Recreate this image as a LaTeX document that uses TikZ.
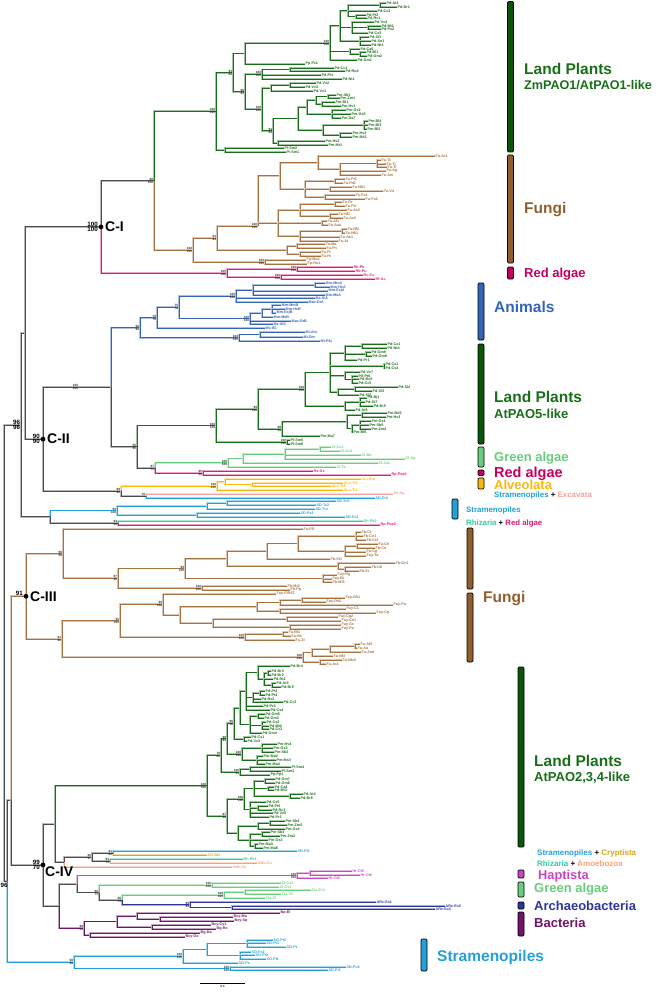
\documentclass[tikz,border=0pt]{standalone}
\usepackage{fontspec}
\setmainfont{Liberation Sans}
\definecolor{lpc}{RGB}{25,110,25}
\definecolor{lpbar}{RGB}{10,85,10}
\definecolor{fuc}{RGB}{165,115,65}
\definecolor{fubar}{RGB}{145,95,45}
\definecolor{rac}{RGB}{220,25,120}
\definecolor{rabar}{RGB}{195,0,95}
\definecolor{anc}{RGB}{50,100,185}
\definecolor{gac}{RGB}{105,205,125}
\definecolor{alc}{RGB}{250,185,10}
\definecolor{stc}{RGB}{35,160,215}
\definecolor{exc}{RGB}{245,160,160}
\definecolor{rhc}{RGB}{55,200,160}
\definecolor{crc}{RGB}{220,165,15}
\definecolor{amc}{RGB}{250,160,115}
\definecolor{hac}{RGB}{200,70,195}
\definecolor{arc}{RGB}{45,55,155}
\definecolor{bac}{RGB}{110,20,105}
\definecolor{bkc}{RGB}{75,75,75}
\newcommand\gsize[1]{\fontsize{#1}{#1}\selectfont\bfseries}
\newcommand\bsu[2]{\node[bst,anchor=south east] (#1bsu) at ([xshift=-0.5pt]#1) {#2};}
\newcommand\bsd[2]{\node[bst,anchor=north east] (#1bsd) at ([xshift=-0.5pt]#1) {#2};}
\newcommand\bs[3]{\bsu{#1}{#2}\bsd{#1}{#3}}
\begin{document}
\begin{tikzpicture}[x=1pt,y=-1pt,
  br/.style={line width=0.8pt, draw=#1, preaction={draw=#1!40, line width=1.9pt}},
  tip/.style={font=\gsize{3.7}, anchor=west, inner sep=0.5pt},
  bst/.style={font=\gsize{3.1}, text=black!80, inner sep=0.2pt},
  bbs/.style={font=\gsize{6.2}, inner sep=0.3pt},
  grp/.style={anchor=base west, inner sep=0pt},
  bar/.style={draw=black, line width=0.7pt, rounded corners=1.2pt}]
\useasboundingbox (0,0) rectangle (660,992);

% backbone
\foreach \n/\px/\py in {root/4/653, A/21/424.9, X/25/333, CI/101/226.9, N88/154/180.7, CII/43/439.1,
  N2a/111/387.2, N95/137/446.7, N97/155/467.9, AL0/121/491, EX0/146/496, SR/50/516.75,
  R2/7/881.2, B/11/800, CIII/26/596.3, CIV/43/865, N2lab/79/387.2}
  \coordinate (\n) at (\px,\py);

% land plants, ZmPAO1/AtPAO1-like
\foreach \n/\px/\py/\t in {a1/386/3/Pd-At1, a2/397/7/Pd-Br1, a3/377/11/Pd-Cc2, a4/366/15/Pd-Pt2, a5/367/18/Pd-Rc1,
  a6/374/22/Pd-Vv4, a7/381/26/Pd-Mt1, a8/381/29/Pd-Pv2, a9/368/33/Pd-Cs3, a10/369/37/Pd-Sl1, a11/371/41/Pd-Sn1,
  a12/371/45/Pd-Nt1, a13/360/49/Pd-Ca5, a14/366/52/Pd-Bl1, a15/367/56/Pd-Gm2, a16/357/60/Pd-Gm1, a17/305/64/Pp-Pz1,
  a18/334/68/Pd-Cc1, a19/345/71/Pd-Ro4, a20/321/75/Pd-Pt1, a21/342/79/Pd-Nt1, a22/316/83/Pd-Vv2, a23/305/87/Pd-Vv3,
  a24/313/91/Pd-Vv1, a25/336/95/Pm-Sb1, a26/340/98/Pm-Zm1, a27/335/102/Pm-Bl1, a28/341/106/Pm-Hv1, a29/346/110/Pm-Os2,
  a30/351/114/Pm-Os5, a31/341/118/Pm-Da7, a32/368/121/Pm-Bl4, a33/368/125/Pm-Bl3, a34/367/129/Pm-Bl2, a35/352/133/Pm-Hv2,
  a36/352/137/Pm-Bd1, a37/325/141/Pm-Hv3, a38/328/145/Pm-Mr1, a39/284/148/Pl-Sm2, a40/286/152/Pl-Sm1}
  {\coordinate (\n) at (\px,\py); \node[tip,text=lpc] (t\n) at (\n) {\t};}
\foreach \n/\px/\py in {A7b/380/5, A7c/356/16.5, A7/348/10.75, A8a/368/27.5, A8/352/27.5, A9/360/41, A5/340/25.9,
  A6a/360/54, A6/350/51.5, A4/330/43, A2/245/53.5, A12/290/69.5, A10/262/74.25, A13a/290/85, A13/271/88,
  A17c/328/96.5, A17d/322/104, A17a/316/100.25, A17b/332/114, A17/307/107, A18a/364/125, A18b/340/135, A18/323/130,
  A15/298/118.5, A16/278/143, A14/273/130.75, A11/262/109.4, A3/245/91.8, A1/233/72.7, A40/225/150, A0/216/111.4}
  \coordinate (\n) at (\px,\py);
\foreach \p/\c in {A0/A1, A0/A40, A40/a39, A40/a40, A1/A2, A1/A3, A2/A4, A2/a17, A4/A5, A4/A6, A4/a16, A5/A7, A5/A8,
  A5/A9, A7/A7b, A7/a3, A7/A7c, A7b/a1, A7b/a2, A7c/a4, A7c/a5, A8/a6, A8/A8a, A8/a9, A8a/a7, A8a/a8, A9/a10, A9/a11,
  A9/a12, A6/a13, A6/A6a, A6a/a14, A6a/a15, A3/A10, A3/A11, A10/A12, A10/a20, A10/a21, A12/a18, A12/a19, A11/A13,
  A11/A14, A13/A13a, A13/a24, A13a/a22, A13a/a23, A14/A15, A14/A16, A15/A17, A15/A18, A17/A17a, A17/A17b, A17a/A17c,
  A17a/A17d, A17c/a25, A17c/a26, A17d/a27, A17d/a28, A17b/a29, A17b/a30, A17b/a31, A18/A18a, A18/A18b, A18a/a32,
  A18a/a33, A18a/a34, A18b/a35, A18b/a36, A16/a37, A16/a38, N88/A0}
  \draw[br=lpc] (\p) |- (\c);

% fungi of C-I
\foreach \n/\px/\py/\t in {b1/435/156/Fa-Ar1, b2/381/160/Fa-Tc, b3/386/164/Fa-Tt, b4/387/167/Fa-Tr, b5/386/171/Fa-Ag,
  b6/381/175/Fa-Am, b7/345/179/Fa-Pt2, b8/343/183/Fa-Pd2, b9/352/187/Fa-Nh1, b10/383/191/Fa-Vd, b11/355/195/Fa-Fo1,
  b12/365/199/Fa-Fo2, b13/342/202/Fa-Pc, b14/345/206/Fa-Pd, b15/347/210/Fa-Ac2, b16/338/214/Fa-Nf1, b17/343/218/Fa-An2,
  b18/327/221/Fa-Af1, b19/328/225/Fa-Aaa, b20/347/229/Fa-Nf2, b21/345/233/Fa-Nfi1, b22/340/237/Fa-An1, b23/338/241/Fa-At,
  b24/325/244/Fa-Ma, b25/326/248/Fa-Pn, b26/321/252/Fa-Pl, b27/321/256/Fa-Hi, b28/306/260/Fp-Mo1, b29/307/264/Fp-Ro1}
  {\coordinate (\n) at (\px,\py); \node[tip,text=fuc] (t\n) at (\n) {\t};}
\foreach \n/\px/\py in {F7b/377/163.5, F7a/340/169.25, F7/318/162.6, F8a/335/181, F8b/330/189, F8c/325/197, F8/305/189,
  F5/280/175.8, F9a/335/204, F9b/330/216, F9/300/210, F10/322/223, F11a/342/231, F11/300/236, F6/278/223, F3/258/226,
  F4a/297/246, F4b/300/254, F4/287/250, F1/217/238, F2/265/262, FU1/193/250}
  \coordinate (\n) at (\px,\py);
\foreach \p/\c in {N88/FU1, FU1/F1, FU1/F2, F2/b28, F2/b29, F1/F3, F1/F4, F4/F4a, F4/F4b, F4a/b24, F4a/b25, F4b/b26,
  F4b/b27, F3/F5, F3/F6, F5/F7, F5/F8, F7/b1, F7/F7a, F7a/F7b, F7a/b5, F7a/b6, F7b/b2, F7b/b3, F7b/b4, F8/F8a, F8/F8b,
  F8/F8c, F8a/b7, F8a/b8, F8b/b9, F8b/b10, F8c/b11, F8c/b12, F6/F9, F6/F10, F6/F11, F9/F9a, F9/b15, F9/F9b, F9a/b13,
  F9a/b14, F9b/b16, F9b/b17, F10/b18, F10/b19, F11/F11a, F11/b22, F11/b23, F11a/b20, F11a/b21}
  \draw[br=fuc] (\p) |- (\c);

% red algae of C-I
\foreach \n/\px/\py/\t in {c1/353/267/Rb-Pk, c2/355/271/Rb-Pu, c3/363/275/Rc-Cc, c4/375/279/Rf-Ac}
  {\coordinate (\n) at (\px,\py); \node[tip,text=rac] (t\n) at (\n) {\t};}
\foreach \n/\px/\py in {R1/297/269, R2a/281/277, RA1/227/273}
  \coordinate (\n) at (\px,\py);
\foreach \p/\c in {CI/RA1, RA1/R1, RA1/R2a, R1/c1, R1/c2, R2a/c3, R2a/c4}
  \draw[br=rac] (\p) |- (\c);

% animals
\foreach \n/\px/\py/\t in {d1/325/283/Mm-MmA, d2/330/287/Mm-HsA, d3/328/291/Mm-EcjA, d4/325/295/Mm-MeA, d5/315/298/Mz-XiA,
  d6/308/302/Mac-DrA, d7/281/305/Mm-MmB, d8/285/309/Mm-HsB, d9/276/313/Mm-EcjB, d10/273/317/Mm-MeB, d11/291/321/Mac-DrB,
  d12/273/324/Mz-XiS, d13/265/328/Mc-B1, d14/305/332/Mi-Am, d15/303/337/Mi-Dm, d16/320/341/Mi-Pfu}
  {\coordinate (\n) at (\px,\py); \node[tip,text=anc] (t\n) at (\n) {\t};}
\foreach \n/\px/\py in {AA1a/315/285, AA1/253/290, AA/236/296, AB1a/272/309, AB1/262/313, AB/250/318.5, AN2/179/307.25,
  AN1/157/317.6, AMi1/260/334.5, AMi/239/337.75, AN0/140/327.7}
  \coordinate (\n) at (\px,\py);
\foreach \p/\c in {N2a/AN0, AN0/AN1, AN0/AMi, AN1/AN2, AN1/d13, AN2/AA, AN2/AB, AA/AA1, AA/d5, AA/d6, AA1/AA1a, AA1/d3,
  AA1/d4, AA1a/d1, AA1a/d2, AB/AB1, AB/d11, AB/d12, AB1/AB1a, AB1/d10, AB1a/d7, AB1a/d8, AB1a/d9, AMi/AMi1, AMi/d16,
  AMi1/d14, AMi1/d15}
  \draw[br=anc] (\p) |- (\c);

% land plants, AtPAO5-like
\foreach \n/\px/\py/\t in {e1/387/344/Pd-Cx1, e2/387/348/Pd-Nt4, e3/371/352/Pd-Gm9, e4/372/356/Pd-Gm8, e5/357/360/Pd-Pr1,
  e6/385/364/Pd-Cs1, e7/385/368/Pd-Cs2, e8/360/372/Pd-Vv7, e9/358/376/Pd-Pt6, e10/359/379/Pd-Rc5, e11/358/383/Pd-Cc5,
  e12/398/387/Pd-Sl4, e13/372/391/Pd-Sl3, e14/359/395/Pd-Sl2, e15/367/398/Pd-Bj1, e16/365/402/Pd-St7, e17/373/406/Pd-Br5,
  e18/355/410/Pd-At5, e19/387/413/Pm-Bd2, e20/386/417/Pm-Hv3, e21/371/421/Pm-Os1, e22/369/425/Pm-Sb5, e23/371/429/Pm-Zm4,
  e24/353/432/Pm-Bl6, e25/320/436/Pm-Ma7, e26/290/440/Pl-Sm5, e27/290/444/Pl-Sm6}
  {\coordinate (\n) at (\px,\py); \node[tip,text=lpc] (t\n) at (\n) {\t};}
\foreach \n/\px/\py in {L6a1/362/346, L6a2/366/354, L6a/345/353, L6b/384/366, L6c1/352/379.5, L6c/345/375.75,
  L6d1/355/389, L6d/338/392, L6/330/372.5, L7a/360/402, L7/345/406, L3/305/389.25, L5a/362/415, L5c/360/425,
  L5b/352/428.5, L5/347/421.75, L4/282/428.9, L1/258/409, L2/287/442, L0/216/425.5}
  \coordinate (\n) at (\px,\py);
\foreach \p/\c in {N95/L0, L0/L1, L0/L2, L2/e26, L2/e27, L1/L3, L1/L4, L3/L6, L3/L7, L6/L6a, L6/L6b, L6/L6c, L6/L6d,
  L6a/L6a1, L6a/L6a2, L6a/e5, L6a1/e1, L6a1/e2, L6a2/e3, L6a2/e4, L6b/e6, L6b/e7, L6c/e8, L6c/L6c1, L6c1/e9, L6c1/e10,
  L6c1/e11, L6d/L6d1, L6d/e14, L6d1/e12, L6d1/e13, L7/L7a, L7/e18, L7a/e15, L7a/e16, L7a/e17, L4/L5, L4/e25, L5/L5a,
  L5/L5b, L5a/e19, L5a/e20, L5b/L5c, L5b/e24, L5c/e21, L5c/e22, L5c/e23}
  \draw[br=lpc] (\p) |- (\c);

% green and red algae of C-II
\foreach \n/\px/\py/\t in {f1/331/447/Cl-Cv1, f2/340/451/Cl-Cv2, f3/361/455/Cl-Mc, f4/405/459/Cl-Ap, f5/378/463/Cl-Csn,
  f6/336/467/Cl-Ts}
  {\coordinate (\n) at (\px,\py); \node[tip,text=gac] (t\n) at (\n) {\t};}
\foreach \n/\px/\py/\t in {g1/313/471/Rs-Gs, g2/391/475/Rp-Pop1}
  {\coordinate (\n) at (\px,\py); \node[tip,text=rac] (t\n) at (\n) {\t};}
\foreach \n/\px/\py in {GA3/320/449, GA2/285/454, GA1/243/458.5, GA0/228/462.75, RG/203/473}
  \coordinate (\n) at (\px,\py);
\foreach \p/\c in {N97/GA0, GA0/GA1, GA0/f6, GA1/GA2, GA1/f5, GA2/GA3, GA2/f3, GA2/f4, GA3/f1, GA3/f2}
  \draw[br=gac] (\p) |- (\c);
\foreach \p/\c in {N97/RG, RG/g1, RG/g2}
  \draw[br=rac] (\p) |- (\c);

% alveolata, excavata
\foreach \n/\px/\py/\t in {h1/361/479/ALt-Bm, h2/343/483/ALu-Tt2, h3/331/486/ALu-Tt4, h4/343/490/ALu-Tt1}
  {\coordinate (\n) at (\px,\py); \node[tip,text=alc] (t\n) at (\n) {\t};}
\coordinate (i1) at (393,494); \node[tip,text=exc] (ti1) at (i1) {Eh-Ng};
\coordinate (i2) at (375,498); \node[tip,text=stc] (ti2) at (i2) {SD-Pt4};
\foreach \n/\px/\py in {AL3/252/484.5, AL2/225/481.75, AL1/217/485.9}
  \coordinate (\n) at (\px,\py);
\foreach \p/\c in {AL0/AL1, AL1/AL2, AL1/h4, AL2/h1, AL2/AL3, AL3/h2, AL3/h3}
  \draw[br=alc] (\p) |- (\c);
\draw[br=exc] (EX0) |- (i1);
\draw[br=stc] (EX0) |- (i2);

% stramenopiles, rhizaria, red algae
\foreach \n/\px/\py/\t in {j1/336/501/SD-Tc3, j2/316/505/SD-Tc2, j3/315/509/SD-Tc1, j4/300/513/SD-Ps1, j5/345/517/SD-Fc2}
  {\coordinate (\n) at (\px,\py); \node[tip,text=stc] (t\n) at (\n) {\t};}
\coordinate (j6) at (363,521); \node[tip,text=rhc] (tj6) at (j6) {Rh-Pb2};
\coordinate (j7) at (380,525); \node[tip,text=rac] (tj7) at (j7) {Rp-Pop2};
\foreach \n/\px/\py in {S1c/227/503, S1a/207/506, S1b/197/515, S1/117/510.5, S2/118/523}
  \coordinate (\n) at (\px,\py);
\foreach \p/\c in {SR/S1, S1/S1a, S1/S1b, S1a/S1c, S1a/j3, S1c/j1, S1c/j2, S1b/j4, S1b/j5}
  \draw[br=stc] (\p) |- (\c);
\draw[br=rhc] (S2) |- (j6);
\draw[br=rac] (S2) |- (j7);

% fungi of C-III
\foreach \n/\px/\py/\t in {k1/303/529/Fa-Ff1, k2/361/532/Fb-Cf, k3/363/536/Fb-Cn1, k4/366/540/Fb-Ct2, k5/378/544/Fa-Ch,
  k6/375/548/Fb-Co, k7/366/552/Fa-Cg, k8/366/556/Fay-Ta, k9/330/559/Fb-Sf1, k10/395/563/Fb-Gn1, k11/371/567/Fb-Uh,
  k12/359/571/Fb-Sr, k13/337/575/Fay-Rg, k14/332/579/Fay-Bi, k15/332/582/Fb-Mf1, k16/287/586/Fb-Mt2, k17/290/590/Fb-Pp,
  k18/276/594/Fay-FIRST, k19/345/598/Fay-Dh1, k20/326/602/Fay-Dh2, k21/393/605/Fay-Pu, k22/346/609/Fay-C1,
  k23/376/613/Fay-Cp, k24/338/617/Fay-Cg2, k25/341/621/Fay-Cn1, k26/341/625/Fay-Ss, k27/341/629/Fay-Pa,
  k28/288/632/Fa-Bf1, k29/291/636/Fa-Bc, k30/295/640/Fa-Zt, k31/360/644/Fa-At3, k32/357/648/Fa-Au, k33/361/652/Fa-And,
  k34/333/656/Fa-Nf3, k35/342/660/Fa-Nfs2, k36/326/664/Fa-Ac1}
  {\coordinate (\n) at (\px,\py); \node[tip,text=fuc] (t\n) at (\n) {\t};}
\foreach \n/\px/\py in {C3t/356/536, C3w/357/546, C3v/345/551, C3s/298/543.5, C3q/267/551.25, C3x/345/569, C3r/338/566,
  C3l/227/558.6, C3p/323/578.5, C3d/185/568.5, C3e/202/588, C3c/118/578.3, C3a/63/553.6, C3ac/302/600, C3ab/280/602.5,
  C3ad/280/611, C3z/257/606.75, C3ae/287/619, C3af/290/627, C3aa/213/623, C3y/180/614.9, C3f/163/604.4, C3ag/283/634,
  C3j/245/637, C3h/120/620.7, C3ai/355/646, C3ak/330/649, C3ah/312/652.5, C3aj/320/662, C3i/303/657.25, C3b/62/639}
  \coordinate (\n) at (\px,\py);
\foreach \p/\c in {B/CIII, CIII/C3a, CIII/C3b, C3a/k1, C3a/C3c, C3c/C3d, C3c/C3e, C3e/k16, C3e/k17, C3d/C3l, C3d/C3p,
  C3p/k13, C3p/k14, C3p/k15, C3l/C3q, C3l/C3r, C3q/C3s, C3q/k9, C3s/C3t, C3s/C3v, C3t/k2, C3t/k3, C3t/k4, C3v/C3w,
  C3v/k7, C3v/k8, C3w/k5, C3w/k6, C3r/k10, C3r/C3x, C3x/k11, C3x/k12, C3b/C3h, C3b/C3i, C3h/C3f, C3h/C3j, C3f/k18,
  C3f/C3y, C3y/C3z, C3y/C3aa, C3z/C3ab, C3z/C3ad, C3ab/C3ac, C3ab/k21, C3ac/k19, C3ac/k20, C3ad/k22, C3ad/k23,
  C3aa/C3ae, C3aa/C3af, C3ae/k24, C3ae/k25, C3af/k26, C3af/k27, C3j/C3ag, C3j/k30, C3ag/k28, C3ag/k29, C3i/C3ah,
  C3i/C3aj, C3ah/C3ak, C3ah/k34, C3ak/C3ai, C3ak/k33, C3ai/k31, C3ai/k32, C3aj/k35, C3aj/k36}
  \draw[br=fuc] (\p) |- (\c);

% land plants, AtPAO2,3,4-like
\foreach \n/\px/\py/\t in {m1/290/666/Pd-Br4, m2/271/671/Pd-Br3, m3/271/675/Pd-Br2, m4/273/679/Pd-Rt2, m5/276/683/Pd-At3,
  m6/281/687/Pd-Br5, m7/265/691/Pd-Pt3, m8/265/695/Pd-Pt4, m9/261/699/Pd-Rc2, m10/283/702/Pd-Cc3, m11/263/706/Pd-Pr4,
  m12/270/710/Pd-Cs4, m13/265/714/Pd-Gm5, m14/264/718/Pd-Gm3, m15/266/722/Pd-Cs2, m16/269/726/Pd-Mt2, m17/269/729/Pd-Cc2,
  m18/262/733/Pd-Gm4, m19/251/737/Pd-Cs1, m20/247/741/Pd-Vv3, m21/277/744/Pm-Hv4, m22/273/748/Pm-Os3, m23/274/752/Pm-Sb2,
  m24/263/756/Pm-Ma2, m25/276/760/Pm-Ms3, m26/265/764/Pm-Ma4, m27/291/767/Pl-Sm4, m28/281/771/Pl-Sm3, m29/270/775/Pp-Pp1,
  m30/275/779/Pd-Gm7, m31/275/783/Pd-Gm6, m32/274/787/Pd-Ca4, m33/274/790/Pd-Mt3, m34/303/794/Pd-At4, m35/300/798/Pd-Br6,
  m36/266/802/Pd-Cs5, m37/268/806/Pd-Pt5, m38/272/810/Pd-Rc3, m39/273/813/Pd-Vv5, m40/269/817/Pd-Pr2, m41/285/821/Pm-Sb4,
  m42/287/825/Pm-Zm3, m43/285/829/Pm-Os4, m44/270/832/Pm-Sb3, m45/280/836/Pm-Zm2, m46/268/840/Pm-Os2, m47/258/844/Pm-Ma3,
  m48/263/848/Pm-Ma6}
  {\coordinate (\n) at (\px,\py); \node[tip,text=lpc] (t\n) at (\n) {\t};}
\foreach \n/\px/\py in {P10b/268/673, P10c/272/685, P10a/264/679, P10/258/672.5, P11a/260/693, P11/253/697.5,
  P8/246/691.25, P12/258/716, P13/262/725.5, P9/250/724.5, P7/240/707.9, P5b/244/739, P5/234/723.4, P14/262/748,
  P15/257/760, P6/242/754, P3/227/738.7, P16/250/769, P4/240/772, P1/221/755.4, P19a/265/781, P19b/268/788.5,
  P19c/290/796, P19/254/788.5, P20a/258/808, P20/250/809.5, P17/244/799, P21a/270/823, P21/258/826, P22a/262/834,
  P22b/255/846, P22/250/840, P18/238/833, P2/227/816, LP4/207/785.7}
  \coordinate (\n) at (\px,\py);
\foreach \p/\c in {LP4/P1, LP4/P2, P1/P3, P1/P4, P3/P5, P3/P6, P5/P7, P5/P5b, P5b/m19, P5b/m20, P7/P8, P7/P9, P8/P10,
  P8/P11, P8/m11, P8/m12, P10/m1, P10/P10a, P10a/P10b, P10a/m4, P10a/P10c, P10b/m2, P10b/m3, P10c/m5, P10c/m6,
  P11/P11a, P11/m9, P11/m10, P11a/m7, P11a/m8, P9/P12, P9/P13, P9/m18, P12/m13, P12/m14, P13/m15, P13/m16, P13/m17,
  P6/P14, P6/P15, P14/m21, P14/m22, P14/m23, P15/m24, P15/m25, P15/m26, P4/P16, P4/m29, P16/m27, P16/m28, P2/P17,
  P2/P18, P17/P19, P17/P20, P19/P19a, P19/P19b, P19/P19c, P19a/m30, P19a/m31, P19b/m32, P19b/m33, P19c/m34, P19c/m35,
  P20/m36, P20/P20a, P20/m39, P20/m40, P20a/m37, P20a/m38, P18/P21, P18/P22, P21/P21a, P21/m43, P21a/m41, P21a/m42,
  P22/P22a, P22/m46, P22/P22b, P22a/m44, P22a/m45, P22b/m47, P22b/m48}
  \draw[br=lpc] (\p) |- (\c);

% rest of C-IV
\foreach \n/\px/\py in {C4e/113/853, C4f/110/861, C4d/92/857, C4c/64/862, C4a/55/823.9, H1/310/873, H0/297/875.5,
  CA0/212/885, CA2/245/892, CA1/224/895, AR1/232/907.5, AR0/190/904.75, C4i/122/899.9, C4h/99/892.5, C4g/77/884,
  B5/160/919, B3/137/916, B4/152/927, B1/117/921.5, B2/90/935, B0/84/928.25, C4b/59/906.1}
  \coordinate (\n) at (\px,\py);
\coordinate (n1) at (297,851); \node[tip,text=stc] (tn1) at (n1) {SD-Pt1};
\coordinate (n2) at (207,855); \node[tip,text=crc] (tn2) at (n2) {CR-Gt2};
\coordinate (n3) at (243,859); \node[tip,text=rhc] (tn3) at (n3) {Rh-Pb1};
\coordinate (n4) at (257,863); \node[tip,text=amc] (tn4) at (n4) {AMo-Cu};
\coordinate (n5) at (232,867); \node[tip,text=amc] (tn5) at (n5) {AMo-Vu};
\foreach \n/\px/\py/\t in {o1/352/871/Hr-Ct5, o2/360/875/Hr-Ct6, o3/328/878/Hr-Ct2}
  {\coordinate (\n) at (\px,\py); \node[tip,text=hac] (t\n) at (\n) {\t};}
\foreach \n/\px/\py/\t in {o4/281/883/Cl-Cs2, o5/279/887/Cl-Cv1, o6/311/890/Cls-Fv1, o7/281/894/Cls-Vc, o8/265/898/Cls-Cl}
  {\coordinate (\n) at (\px,\py); \node[tip,text=gac] (t\n) at (\n) {\t};}
\foreach \n/\px/\py/\t in {o9/376/902/ARc-Ex1, o10/445/906/ARc-Ex2, o11/435/909/ARc-Ex3}
  {\coordinate (\n) at (\px,\py); \node[tip,text=arc] (t\n) at (\n) {\t};}
\foreach \n/\px/\py/\t in {q1/280/913/Bp-El, q2/233/917/Bcy-Ma, q3/234/921/Bcy-Sp, q4/211/925/Bcy-Cy1, q5/216/929/Bg-Rc,
  q6/200/933/Bg-Ha, q7/185/937/Bcy-Ox}
  {\coordinate (\n) at (\px,\py); \node[tip,text=bac] (t\n) at (\n) {\t};}
\draw[br=lpc] (C4a) |- (LP4);
\draw[br=stc] (C4e) |- (n1);
\draw[br=crc] (C4e) |- (n2);
\draw[br=rhc] (C4f) |- (n3);
\draw[br=amc] (C4f) |- (n4);
\draw[br=amc] (C4c) |- (n5);
\foreach \p/\c in {C4g/H0, H0/H1, H0/o3, H1/o1, H1/o2}
  \draw[br=hac] (\p) |- (\c);
\foreach \p/\c in {C4h/CA0, CA0/o4, CA0/o5, C4i/CA1, CA1/CA2, CA1/o8, CA2/o6, CA2/o7}
  \draw[br=gac] (\p) |- (\c);
\foreach \p/\c in {C4i/AR0, AR0/o9, AR0/AR1, AR1/o10, AR1/o11}
  \draw[br=arc] (\p) |- (\c);
\foreach \p/\c in {C4b/B0, B0/B1, B0/B2, B1/B3, B1/B4, B3/q1, B3/B5, B5/q2, B5/q3, B4/q4, B4/q5, B2/q6, B2/q7}
  \draw[br=bac] (\p) |- (\c);

% stramenopiles at the base
\foreach \n/\px/\py/\t in {s1/273/940/SO-Pr2, s2/266/943/SO-Pr1, s3/286/947/SO-Pt, s4/251/952/SO-Fs2, s5/255/955/SO-Pr3,
  s6/266/959/SO-Pt1, s7/238/963/SO-Ps, s8/346/967/SD-Pc4, s9/328/970/SD-Pi2}
  {\coordinate (\n) at (\px,\py); \node[tip,text=stc] (t\n) at (\n) {\t};}
\foreach \n/\px/\py in {SO3a/247/943.5, SO3b/240/955.5, SO3/207/949.5, SO1/183/956.25, SO2/230/968.5, SO/74/962.4}
  \coordinate (\n) at (\px,\py);
\foreach \p/\c in {R2/SO, SO/SO1, SO/SO2, SO1/SO3, SO1/s7, SO3/SO3a, SO3/SO3b, SO3a/s1, SO3a/s2, SO3a/s3, SO3b/s4,
  SO3b/s5, SO3b/s6, SO2/s8, SO2/s9}
  \draw[br=stc] (\p) |- (\c);

% black backbone
\foreach \p/\c in {root/A, root/R2, A/X, A/SR, X/CI, X/CII, CI/N88, CII/N2a, CII/AL0, N2a/N95, N95/N97, AL0/EX0,
  SR/S2, R2/B, B/CIV, CIV/C4a, CIV/C4b, C4a/C4c, C4c/C4d, C4d/C4e, C4d/C4f, C4b/C4g, C4g/C4h, C4h/C4i}
  \draw[br=bkc] (\p) |- (\c);

% clades
\foreach \n in {CI, CII, CIII, CIV} \fill (\n) circle (2.4pt);
\node[anchor=west,inner sep=0pt,font=\gsize{14}] (CIl) at ([xshift=4pt]CI) {C-I};
\node[anchor=west,inner sep=0pt,font=\gsize{14}] (CIIl) at ([xshift=4pt]CII) {C-II};
\node[anchor=west,inner sep=0pt,font=\gsize{14}] (CIIIl) at ([xshift=4pt]CIII) {C-III};
\node[anchor=north west,inner sep=0pt,font=\gsize{14}] (CIVl) at ([xshift=2pt,yshift=-2pt]CIV) {C-IV};
\node[bbs,anchor=south east] (CIbsu) at ([xshift=-2.8pt]CI) {100};
\node[bbs,anchor=north east] (CIbsd) at ([xshift=-2.8pt]CI) {100};
\node[bbs,anchor=south east] (Absu) at ([xshift=-0.5pt]A) {96};
\node[bbs,anchor=north east] (Absd) at ([xshift=-0.5pt]A) {96};
\node[bbs,anchor=south east] (CIIbsu) at ([xshift=-2.8pt]CII) {90};
\node[bbs,anchor=north east] (CIIbsd) at ([xshift=-2.8pt]CII) {90};
\node[bbs,anchor=south east] (CIIIbsu) at ([xshift=-2.8pt]CIII) {91};
\node[bbs,anchor=south east] (CIVbsu) at ([xshift=-2.8pt]CIV) {99};
\node[bbs,anchor=north east] (CIVbsd) at ([xshift=-2.8pt]CIV) {70};
\node[bbs,anchor=north east] (R2bsd) at ([xshift=1pt,yshift=-1pt]R2) {96};

% support values
\bs{A0}{100}{100} \bs{A1}{93}{94} \bs{A3}{96}{94} \bs{A4}{100}{100} \bs{A10}{100}{100} \bs{A11}{100}{100} \bs{A14}{94}{94}
\bs{N88}{88}{100} \bs{FU1}{100}{100} \bs{F1}{83}{84} \bs{F3}{100}{100} \bs{F2}{100}{100}
\bs{RA1}{100}{100} \bs{R1}{100}{100} \bs{R2a}{100}{100}
\bs{AN0}{92}{92} \bs{AN1}{79}{79} \bs{AN2}{75}{76} \bs{AA}{100}{100} \bs{AB}{100}{100} \bs{AMi}{100}{100}
\bs{N2lab}{100}{100} \bs{N95}{95}{95} \bs{L0}{100}{100} \bs{L1}{99}{100} \bs{L3}{100}{100} \bs{L4}{98}{99} \bs{L2}{100}{100}
\bs{N97}{87}{71} \bs{GA0}{100}{100} \bs{RG}{90}{99}
\bs{AL0}{99}{92} \bs{AL1}{100}{100} \bsu{EX0}{70}
\bs{S1}{99}{100} \bs{S2}{94}{94}
\bs{C3a}{98}{98} \bs{C3c}{97}{99} \bs{C3d}{99}{100} \bs{C3e}{100}{100} \bs{C3b}{81}{88} \bs{C3h}{95}{100}
\bs{C3f}{99}{100} \bs{C3j}{100}{100} \bs{C3i}{100}{100}
\bs{LP4}{100}{100} \bs{P1}{79}{82} \bs{P3}{99}{91} \bs{P5}{96}{92} \bs{P6}{100}{100} \bs{P4}{100}{93} \bs{P2}{97}{98}
\bs{P17}{100}{100}
\bs{C4d}{96}{97} \bs{C4e}{61}{82} \bs{C4f}{83}{79} \bs{H0}{100}{100} \bs{C4h}{66}{73} \bs{CA0}{100}{100}
\bs{C4i}{98}{79} \bs{CA1}{100}{100} \bs{AR0}{99}{99} \bs{B0}{98}{93}
\bs{SO}{98}{98} \bs{SO1}{100}{100} \bs{SO2}{100}{100}

% group bars
\foreach \xa/\ya/\xb/\yb/\c in {507.5/1.5/513.5/152/lpbar, 507.5/155/513.5/263/fubar, 507.5/267/513.5/279/rabar,
  478/283/484/340/anc, 478/344/484/444/lpbar, 478/447/484/467/gac, 478/470/484/475.5/rabar, 478/478/484/489/alc,
  452/499/458/519/stc, 467/528/473/589/fubar, 467/593/473/662/fubar, 518/667/524/847/lpbar, 518/870/524/878/hac,
  518/882/524/897/gac, 518/902/524/909/arc, 518/912/524/936/bac, 421/939/427/971/stc}
  \draw[bar,fill=\c] (\xa,\ya) rectangle (\xb,\yb);

% group names
\node[grp,text=lpc,font=\gsize{15.5}] (g1a) at (524,75) {Land Plants};
\node[grp,text=lpc,font=\gsize{12.6}] (g1b) at (524,90) {ZmPAO1/AtPAO1-like};
\node[grp,text=fubar,font=\gsize{15.5}] (g2) at (524,214) {Fungi};
\node[grp,text=rabar,font=\gsize{13}] (g3) at (524,277) {Red algae};
\node[grp,text=anc,font=\gsize{15.5}] (g4) at (494,312) {Animals};
\node[grp,text=lpc,font=\gsize{15.5}] (g5a) at (494,402) {Land Plants};
\node[grp,text=lpc,font=\gsize{13}] (g5b) at (494,418) {AtPAO5-like};
\node[grp,text=gac,font=\gsize{13}] (g6) at (494,461) {Green algae};
\node[grp,text=rabar,font=\gsize{14.5}] (g7) at (494,477) {Red algae};
\node[grp,text=alc,font=\gsize{13}] (g8) at (494,489) {Alveolata};
\node[grp,font=\gsize{7.9}] (g9) at (494,497) {\textcolor{stc}{Stramenopiles} + \textcolor{exc}{Excavata}};
\node[grp,text=stc,font=\gsize{7.9}] (g10) at (466,512) {Stramenopiles};
\node[grp,font=\gsize{7.8}] (g11) at (466,525) {\textcolor{rhc}{Rhizaria} + \textcolor{rac}{Red algae}};
\node[grp,text=fubar,font=\gsize{15.5}] (g12) at (483,602) {Fungi};
\node[grp,text=lpc,font=\gsize{15.5}] (g13a) at (534,766) {Land Plants};
\node[grp,text=lpc,font=\gsize{13}] (g13b) at (534,781) {AtPAO2,3,4-like};
\node[grp,font=\gsize{8}] (g14) at (537,855) {\textcolor{stc}{Stramenopiles} + \textcolor{crc}{Cryptista}};
\node[grp,font=\gsize{8}] (g15) at (537,866) {\textcolor{rhc}{Rhizaria} + \textcolor{amc}{Amoebozoa}};
\node[grp,text=hac,font=\gsize{12.8}] (g16) at (538,879) {Haptista};
\node[grp,text=gac,font=\gsize{13}] (g17) at (534,892) {Green algae};
\node[grp,text=arc,font=\gsize{13}] (g18) at (534,910) {Archaeobacteria};
\node[grp,text=bac,font=\gsize{13}] (g19) at (534,927) {Bacteria};
\node[grp,text=stc,font=\gsize{15.5}] (g20) at (437,961) {Stramenopiles};

% scale
\coordinate (sca) at (200,983); \coordinate (scb) at (245,983);
\draw[line width=0.6pt] (sca) -- (scb);
\node[bst,anchor=north] (scl) at (222.5,985) {0.4};
\end{tikzpicture}
\end{document}
